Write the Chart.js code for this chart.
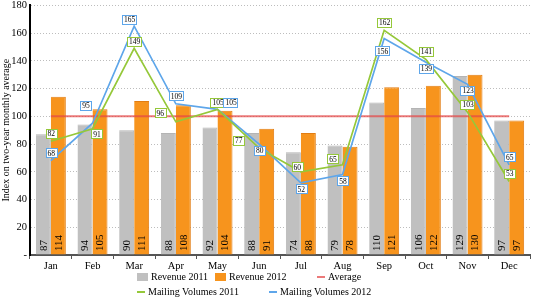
<!DOCTYPE html>
<html><head><meta charset="utf-8">
<script src="https://cdn.jsdelivr.net/npm/chart.js@4/dist/chart.umd.min.js"></script>
<style>
html,body{margin:0;padding:0;background:#fff;}
#wrap{position:relative;width:533px;height:298px;overflow:hidden;}
#c{position:absolute;left:0;top:-4px;}
.li{position:absolute;white-space:nowrap;font-family:"Liberation Serif","Times New Roman",serif;font-size:10px;line-height:12px;color:#000;}
.sw{position:absolute;}
</style></head><body>
<div id="wrap"><canvas id="c" width="533" height="302"></canvas><div id="legend"></div></div>
<script>
const months = ["Jan","Feb","Mar","Apr","May","Jun","Jul","Aug","Sep","Oct","Nov","Dec"];
const revenue2011 = [87, 94, 90, 88, 92, 88, 74, 79, 110, 106, 129, 97];
const revenue2012 = [114, 105, 111, 108, 104, 91, 88, 78, 121, 122, 130, 97];
const averageValues = [100, 100, 100, 100, 100, 100, 100, 100, 100, 100, 100, 100];
const mailing2011 = [82, 91, 149, 96, 105, 77, 60, 65, 162, 141, 103, 53];
const mailing2012 = [68, 95, 165, 109, 105, 80, 52, 58, 156, 139, 123, 65];
const yTicks = [0, 20, 40, 60, 80, 100, 120, 140, 160, 180];

const SERIF = '"Liberation Serif","Times New Roman",serif';
const GREY = '#c0c0c0', ORANGE = '#f7941d', RED = 'rgba(228,70,70,0.72)', GREEN = '#95c83a', BLUE = '#5ea6ea';

// label offsets (dx, dy) in pixels for the point labels of each mailing series
const offs2011 = [[0,-8],[4,5],[0,-7],[-16,-9],[0,-7],[-21,-8],[-4,-5],[-10,-6],[0,-8],[0,-8],[0,-8],[0,-8]];
const offs2012 = [[0,-8],[-7,-18],[-5,-7],[0,-8],[13,-7],[0,6],[0,6],[0,6],[-2,12],[0,6],[0,6],[0,-8]];

const labelPlugin = {
  id: 'labels',
  afterDatasetsDraw(chart) {
    const ctx = chart.ctx;
    const bottom = chart.chartArea.bottom;
    ctx.save();
    [0, 1].forEach(di => {
      const meta = chart.getDatasetMeta(di);
      const data = chart.data.datasets[di].data;
      meta.data.forEach((el, i) => {
        ctx.save();
        ctx.translate(el.x, bottom - 4);
        ctx.rotate(-Math.PI / 2);
        ctx.font = '11px ' + SERIF;
        ctx.fillStyle = '#000';
        ctx.textAlign = 'left';
        ctx.textBaseline = 'middle';
        ctx.fillText(String(data[i]), 0, 0.5);
        ctx.restore();
      });
    });
    [[3, offs2011, GREEN], [4, offs2012, BLUE]].forEach(([di, offs, col]) => {
      const meta = chart.getDatasetMeta(di);
      const data = chart.data.datasets[di].data;
      meta.data.forEach((el, i) => {
        const t = String(data[i]);
        ctx.font = '7.5px ' + SERIF;
        const w = ctx.measureText(t).width + 3;
        const h = 9;
        const cx = el.x + offs[i][0], cy = el.y + offs[i][1];
        ctx.fillStyle = '#fff';
        ctx.fillRect(Math.round(cx - w / 2) + 0.5, Math.round(cy - h / 2) + 0.5, Math.round(w), h);
        ctx.strokeStyle = col;
        ctx.lineWidth = 1;
        ctx.strokeRect(Math.round(cx - w / 2) + 0.5, Math.round(cy - h / 2) + 0.5, Math.round(w), h);
        ctx.fillStyle = '#000';
        ctx.textAlign = 'center';
        ctx.textBaseline = 'middle';
        ctx.fillText(t, cx + 0.5, cy + 1);
      });
    });
    ctx.restore();
  }
};

const chart = new Chart(document.getElementById('c'), {
  data: {
    labels: months,
    datasets: [
      { type: 'bar', label: 'Revenue 2011', data: revenue2011, backgroundColor: GREY, borderColor: '#b4b4b4', borderWidth: {right: 1, top: 1}, order: 3, categoryPercentage: 0.72, barPercentage: 1.0 },
      { type: 'bar', label: 'Revenue 2012', data: revenue2012, backgroundColor: ORANGE, borderColor: '#e27d12', borderWidth: {right: 1, top: 1}, order: 3, categoryPercentage: 0.72, barPercentage: 1.0 },
      { type: 'line', label: 'Average', data: averageValues, borderColor: RED, borderWidth: 2, pointRadius: 0, fill: false, order: 2 },
      { type: 'line', label: 'Mailing Volumes 2011', data: mailing2011, borderColor: GREEN, borderWidth: 1.7, pointRadius: 0, fill: false, tension: 0, order: 1 },
      { type: 'line', label: 'Mailing Volumes 2012', data: mailing2012, borderColor: BLUE, borderWidth: 1.7, pointRadius: 0, fill: false, tension: 0, order: 1 }
    ]
  },
  options: {
    responsive: false,
    animation: false,
    devicePixelRatio: 1,
    layout: { padding: { top: 0, right: 3, left: 0, bottom: 0 } },
    plugins: { legend: { display: false }, tooltip: { enabled: false } },
    scales: {
      x: {
        type: 'category',
        offset: true,
        grid: { display: true, drawOnChartArea: false, drawTicks: true, tickLength: 4, color: '#555', offset: true },
        border: { display: true, color: '#555', width: 2 },
        ticks: { font: { family: SERIF, size: 10.5 }, color: '#000', padding: 1, maxRotation: 0, autoSkip: false },
        afterFit: s => { s.height = 43; }
      },
      y: {
        min: 0, max: 180,
        afterBuildTicks: s => { s.ticks = yTicks.map(v => ({ value: v })); },
        ticks: { font: { family: SERIF, size: 10.5 }, color: '#000', padding: 3, callback: v => v === 0 ? '-' : String(v) },
        grid: { color: '#bdbdbd', lineWidth: 1, drawTicks: false },
        border: { display: true, color: '#000', width: 2, dash: [1, 2] },
        title: { display: true, text: 'Index on two-year monthly average', font: { family: SERIF, size: 10 }, color: '#000', padding: 0 },
        afterFit: s => { s.width = 30; }
      }
    }
  },
  plugins: [labelPlugin]
});

const legend = document.getElementById('legend');
const items = [
  { ds: 0, kind: 'box', x: 137, y: 277 },
  { ds: 1, kind: 'box', x: 215, y: 277 },
  { ds: 2, kind: 'line', x: 317, y: 277 },
  { ds: 3, kind: 'line', x: 137, y: 292 },
  { ds: 4, kind: 'line', x: 269, y: 292 }
];
items.forEach(it => {
  const d = chart.data.datasets[it.ds];
  const sw = document.createElement('div');
  sw.className = 'sw';
  if (it.kind === 'box') {
    sw.style.cssText = `left:${it.x}px;top:${it.y - 4}px;width:11px;height:8px;background:${d.backgroundColor};`;
  } else {
    sw.style.cssText = `left:${it.x}px;top:${it.y - 1}px;width:8px;height:2px;background:${d.borderColor};`;
  }
  legend.appendChild(sw);
  const tx = document.createElement('div');
  tx.className = 'li';
  tx.style.left = (it.x + (it.kind === 'box' ? 14 : 11)) + 'px';
  tx.style.top = (it.y - 6) + 'px';
  tx.textContent = d.label;
  legend.appendChild(tx);
});
</script>
</body></html>
